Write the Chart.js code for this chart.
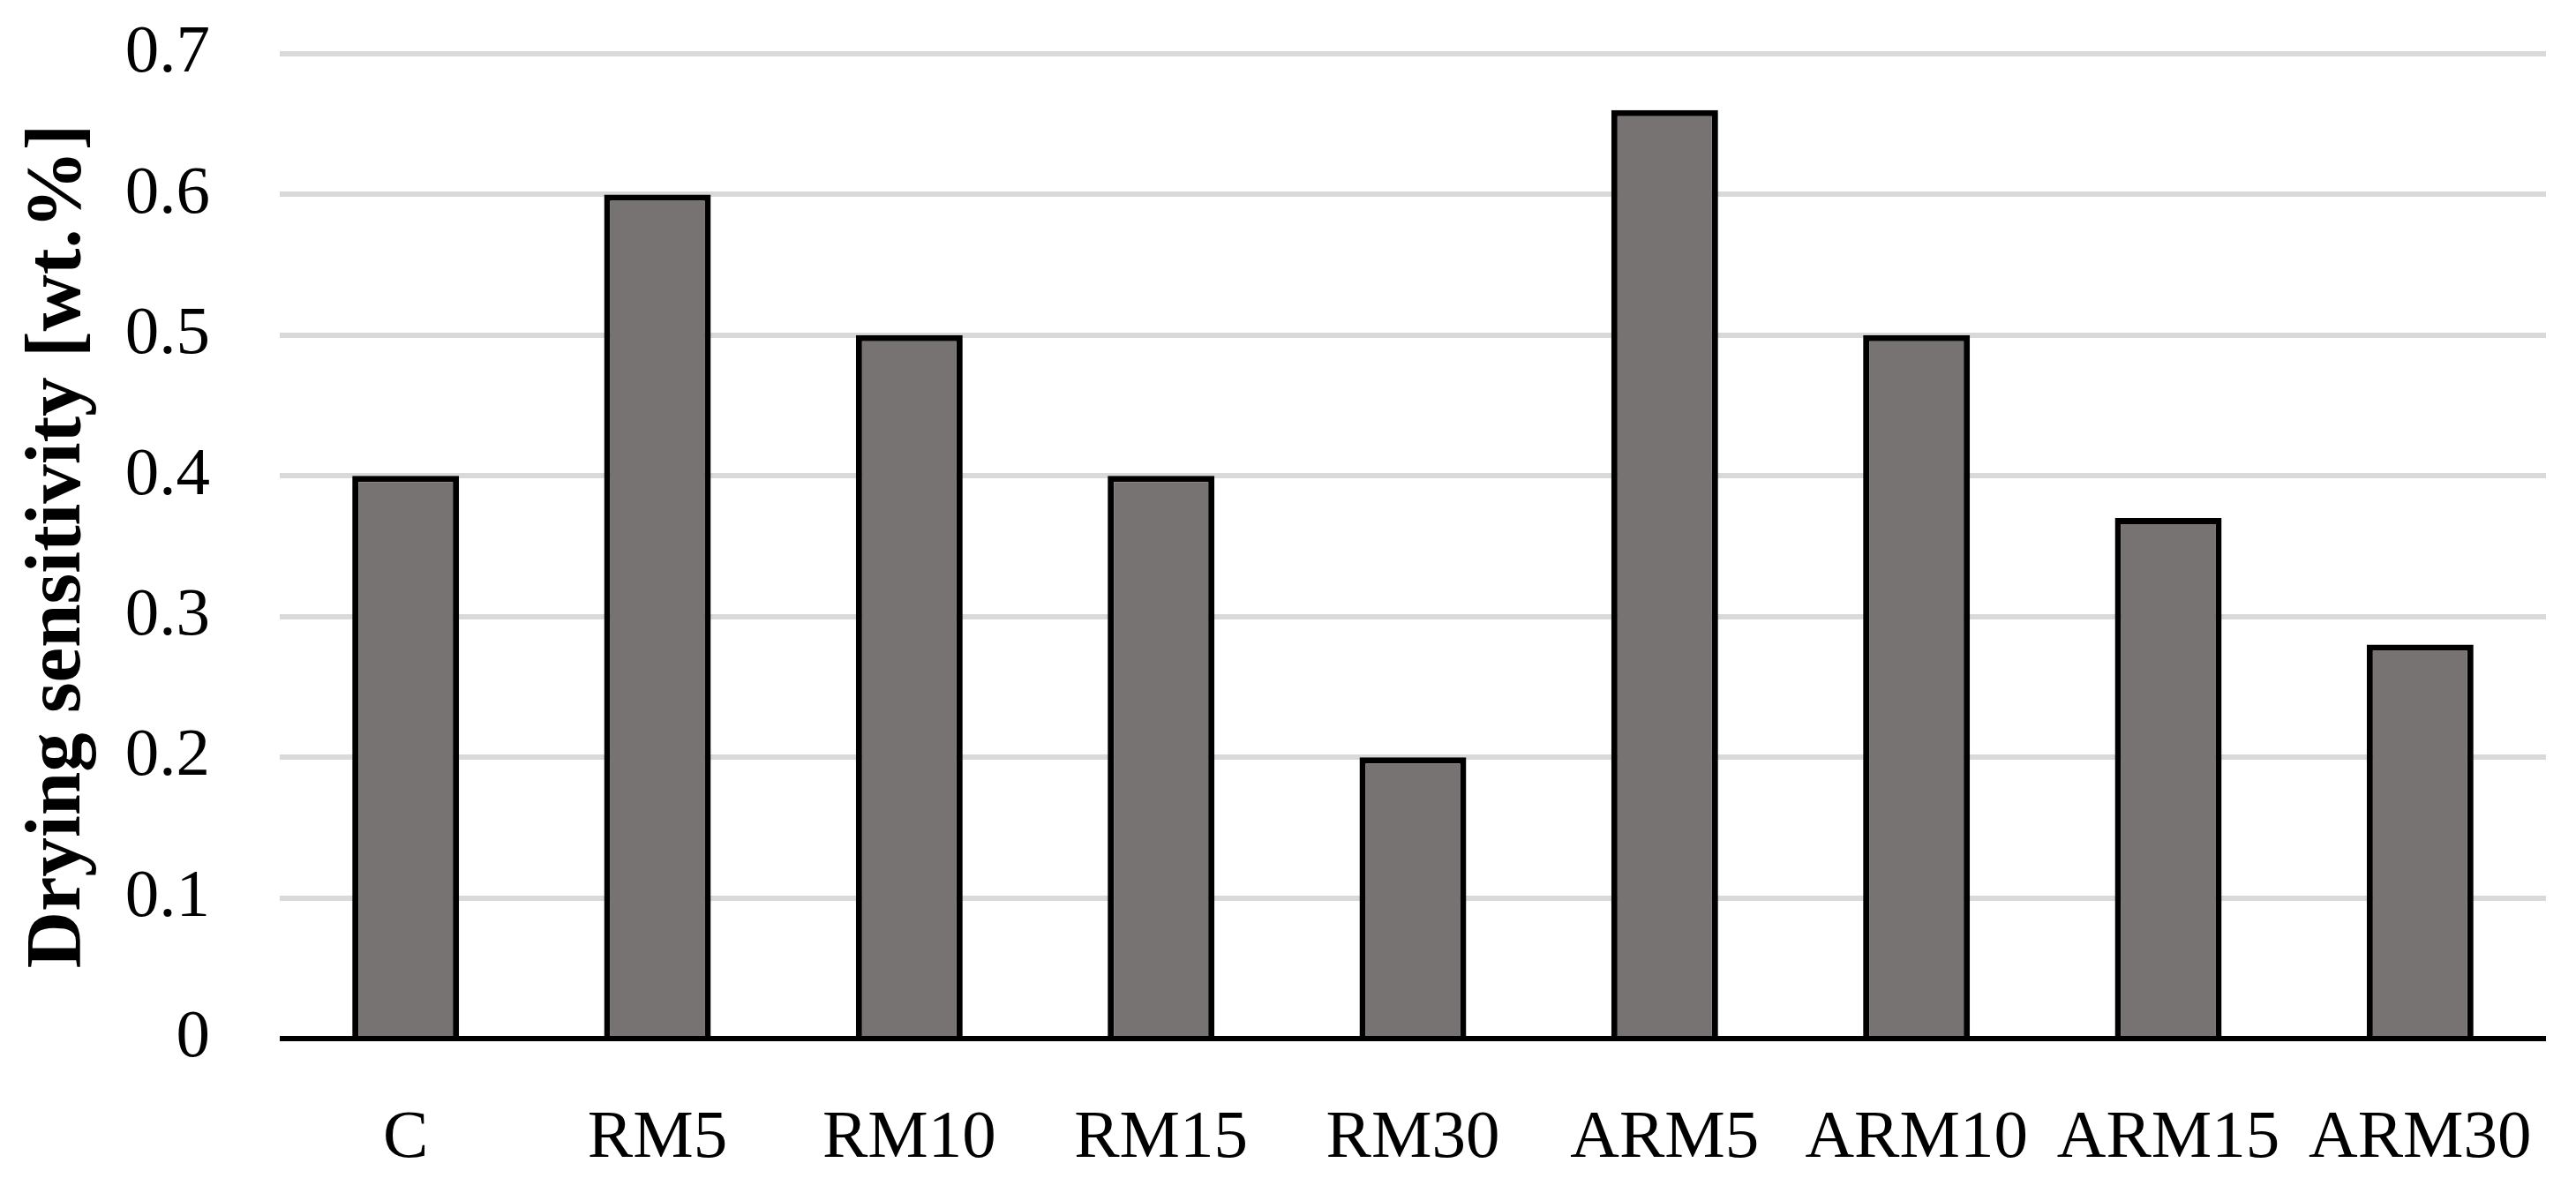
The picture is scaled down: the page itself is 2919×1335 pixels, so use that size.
<!DOCTYPE html>
<html><head><meta charset="utf-8">
<script src="https://cdn.jsdelivr.net/npm/chart.js@4.4.0/dist/chart.umd.min.js"></script>
<style>html,body{margin:0;padding:0;background:#fff;} #wrap{width:2919px;height:1335px;}</style>
</head><body><div id="wrap"><canvas id="c" width="2919" height="1335"></canvas></div>
<script>
const categories = ['C', 'RM5', 'RM10', 'RM15', 'RM30', 'ARM5', 'ARM10', 'ARM15', 'ARM30'];
const dryingSensitivity = [0.40, 0.60, 0.50, 0.40, 0.20, 0.66, 0.50, 0.37, 0.28];
const yTickValues = [0, 0.1, 0.2, 0.3, 0.4, 0.5, 0.6, 0.7];
const yAxisTitle = 'Drying sensitivity [wt.%]';

const serif = '"Liberation Serif", "Times New Roman", serif';

new Chart(document.getElementById('c'), {
  type: 'bar',
  data: {
    labels: categories,
    datasets: [{
      data: dryingSensitivity,
      backgroundColor: '#787373',
      borderColor: '#000000',
      borderWidth: 7,
      barPercentage: 0.424,
      categoryPercentage: 1.0
    }]
  },
  options: {
    responsive: false,
    devicePixelRatio: 1,
    animation: false,
    layout: { padding: { left: 0, right: 34, top: 61, bottom: 0 } },
    plugins: { legend: { display: false }, tooltip: { enabled: false } },
    scales: {
      x: {
        grid: { display: false },
        border: { display: false },
        ticks: { color: '#000', font: { family: serif, size: 77 }, padding: 60, maxRotation: 0, autoSkip: false },
        afterFit: s => { s.height = 158; s.paddingLeft = 0; s.paddingRight = 0; }
      },
      y: {
        min: yTickValues[0],
        max: yTickValues[yTickValues.length - 1],
        afterBuildTicks: s => { s.ticks = yTickValues.map(v => ({ value: v })); },
        border: { display: false },
        grid: {
          drawTicks: false,
          lineWidth: 6,
          color: ctx => (ctx.tick && ctx.tick.value === 0) ? '#000000' : '#d9d9d9'
        },
        ticks: {
          color: '#000',
          font: { family: serif, size: 77 },
          padding: 79,
          callback: v => String(Number(Number(v).toFixed(1)))
        },
        title: {
          display: true,
          text: yAxisTitle,
          color: '#000',
          font: { family: serif, size: 89, weight: 'bold' },
          padding: { top: 14, bottom: 0 }
        },
        afterFit: s => { s.width = 317; s.paddingTop = 0; s.paddingBottom = 0; }
      }
    }
  }
});
</script>
</body></html>
